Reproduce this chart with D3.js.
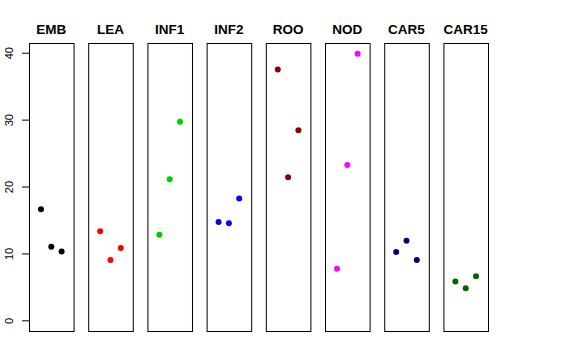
<!DOCTYPE html>
<html><head><meta charset="utf-8">
<script src="https://cdn.jsdelivr.net/npm/d3@7/dist/d3.min.js"></script>
<style>body{margin:0;background:#fff}svg{display:block}</style>
</head><body>
<svg id="chart" width="576" height="360"></svg>
<script>
const categories = ["EMB","LEA","INF1","INF2","ROO","NOD","CAR5","CAR15"];
const colors = ["#000000","#FF0000","#00CD00","#0000FF","#8B0000","#FF00FF","#00008B","#006400"];
const values = [
  [16.6, 11.0, 10.3],
  [13.3, 9.0, 10.8],
  [12.8, 21.1, 29.7],
  [14.7, 14.5, 18.2],
  [37.5, 21.4, 28.4],
  [7.7, 23.2, 39.86],
  [10.2, 11.9, 9.0],
  [5.8, 4.8, 6.6]
];
const replicates = [1, 2, 3];
const yTicks = [0, 10, 20, 30, 40];

const svg = d3.select("#chart");
const plotTop = 43, plotBottom = 331;
const yMax = d3.max(values.flat());
const pad = 0.04 * yMax;
const y = d3.scaleLinear().domain([0 - pad, yMax + pad]).range([plotBottom, plotTop]);
const band = d3.scaleBand().domain(categories).range([29, 488]).paddingInner(0.247).paddingOuter(0);
const x = d3.scaleLinear().domain([-0.16, 4.16]).range([0, band.bandwidth()]);

categories.forEach((c, i) => {
  const g = svg.append("g").attr("transform", `translate(${band(c)},0)`);
  g.append("rect").attr("x", 0.5).attr("y", plotTop + 0.5)
    .attr("width", band.bandwidth()).attr("height", plotBottom - plotTop)
    .attr("fill", "none").attr("stroke", "#000").attr("stroke-width", 1);
  g.append("text").attr("x", band.bandwidth() / 2).attr("y", 34)
    .attr("text-anchor", "middle").attr("font-family", "Liberation Sans, Arial, sans-serif")
    .attr("font-weight", "bold").attr("font-size", 13.5).text(c);
  g.selectAll("circle").data(values[i]).join("circle")
    .attr("cx", (d, j) => x(replicates[j]))
    .attr("cy", d => y(d))
    .attr("r", 3)
    .attr("fill", colors[i]);
});

const axis = d3.axisLeft(y).tickValues(yTicks).tickSize(7.5).tickPadding(0).tickFormat(d3.format("d"));
const ag = svg.append("g").attr("transform", "translate(29.5,0)").call(axis);
ag.select(".domain").attr("d", `M0,${y(0)}V${y(40)}`).attr("stroke", "#000");
ag.selectAll(".tick line").attr("stroke", "#000");
ag.selectAll(".tick text")
  .attr("font-family", "Liberation Sans, Arial, sans-serif").attr("font-size", 11).attr("fill", "#000")
  .attr("text-anchor", "middle").attr("x", null).attr("dy", null)
  .attr("transform", "translate(-16.5,0) rotate(-90)")
  .attr("dominant-baseline", "auto").attr("y", 0);
</script>
</body></html>
